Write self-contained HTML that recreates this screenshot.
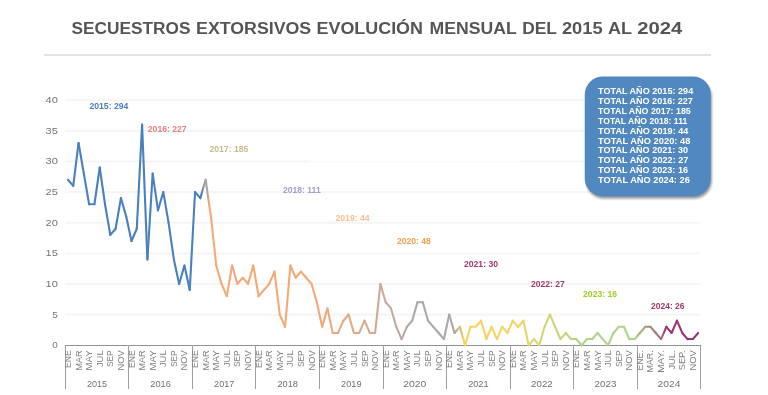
<!DOCTYPE html>
<html><head><meta charset="utf-8"><style>
html,body{margin:0;padding:0;background:#fff;width:768px;height:395px;overflow:hidden}
svg{display:block;will-change:transform}
text{font-family:"Liberation Sans",sans-serif}
.title{font-size:17.2px;font-weight:bold;fill:#555555}
.yl{font-size:8.6px;fill:#747474}
.ml{font-size:8.4px;fill:#7f7f7f}
.yr{font-size:8.8px;fill:#707070}
.lb{font-size:9.2px;font-weight:bold}
.tt{font-size:8.2px;font-weight:bold;fill:#ffffff}
</style></head><body>
<svg width="768" height="395" viewBox="0 0 768 395">
<defs><linearGradient id="g25" gradientUnits="userSpaceOnUse" x1="200.34" y1="0" x2="205.64" y2="0"><stop offset="0.3" stop-color="#4a80bd"/><stop offset="0.7" stop-color="#aaa3a3"/></linearGradient><linearGradient id="g26" gradientUnits="userSpaceOnUse" x1="205.64" y1="0" x2="210.94" y2="0"><stop offset="0.3" stop-color="#aaa3a3"/><stop offset="0.7" stop-color="#f3aa76"/></linearGradient><linearGradient id="g47" gradientUnits="userSpaceOnUse" x1="316.85" y1="0" x2="322.15" y2="0"><stop offset="0.3" stop-color="#f3aa76"/><stop offset="0.7" stop-color="#f0aa79"/></linearGradient><linearGradient id="g48" gradientUnits="userSpaceOnUse" x1="322.15" y1="0" x2="327.44" y2="0"><stop offset="0.3" stop-color="#f0aa79"/><stop offset="0.7" stop-color="#edaa7c"/></linearGradient><linearGradient id="g49" gradientUnits="userSpaceOnUse" x1="327.44" y1="0" x2="332.74" y2="0"><stop offset="0.3" stop-color="#edaa7c"/><stop offset="0.7" stop-color="#eaaa7e"/></linearGradient><linearGradient id="g50" gradientUnits="userSpaceOnUse" x1="332.74" y1="0" x2="338.04" y2="0"><stop offset="0.3" stop-color="#eaaa7e"/><stop offset="0.7" stop-color="#e6aa81"/></linearGradient><linearGradient id="g51" gradientUnits="userSpaceOnUse" x1="338.04" y1="0" x2="343.33" y2="0"><stop offset="0.3" stop-color="#e6aa81"/><stop offset="0.7" stop-color="#e3aa84"/></linearGradient><linearGradient id="g52" gradientUnits="userSpaceOnUse" x1="343.33" y1="0" x2="348.63" y2="0"><stop offset="0.3" stop-color="#e3aa84"/><stop offset="0.7" stop-color="#e0aa87"/></linearGradient><linearGradient id="g53" gradientUnits="userSpaceOnUse" x1="348.63" y1="0" x2="353.92" y2="0"><stop offset="0.3" stop-color="#e0aa87"/><stop offset="0.7" stop-color="#ddaa8a"/></linearGradient><linearGradient id="g54" gradientUnits="userSpaceOnUse" x1="353.92" y1="0" x2="359.22" y2="0"><stop offset="0.3" stop-color="#ddaa8a"/><stop offset="0.7" stop-color="#daaa8d"/></linearGradient><linearGradient id="g55" gradientUnits="userSpaceOnUse" x1="359.22" y1="0" x2="364.51" y2="0"><stop offset="0.3" stop-color="#daaa8d"/><stop offset="0.7" stop-color="#d6aa90"/></linearGradient><linearGradient id="g56" gradientUnits="userSpaceOnUse" x1="364.51" y1="0" x2="369.81" y2="0"><stop offset="0.3" stop-color="#d6aa90"/><stop offset="0.7" stop-color="#d3aa92"/></linearGradient><linearGradient id="g57" gradientUnits="userSpaceOnUse" x1="369.81" y1="0" x2="375.11" y2="0"><stop offset="0.3" stop-color="#d3aa92"/><stop offset="0.7" stop-color="#d0aa95"/></linearGradient><linearGradient id="g58" gradientUnits="userSpaceOnUse" x1="375.11" y1="0" x2="380.40" y2="0"><stop offset="0.3" stop-color="#d0aa95"/><stop offset="0.7" stop-color="#cdaa98"/></linearGradient><linearGradient id="g59" gradientUnits="userSpaceOnUse" x1="380.40" y1="0" x2="385.70" y2="0"><stop offset="0.3" stop-color="#cdaa98"/><stop offset="0.7" stop-color="#c8aa9a"/></linearGradient><linearGradient id="g60" gradientUnits="userSpaceOnUse" x1="385.70" y1="0" x2="390.99" y2="0"><stop offset="0.3" stop-color="#c8aa9a"/><stop offset="0.7" stop-color="#c3aa9d"/></linearGradient><linearGradient id="g61" gradientUnits="userSpaceOnUse" x1="390.99" y1="0" x2="396.29" y2="0"><stop offset="0.3" stop-color="#c3aa9d"/><stop offset="0.7" stop-color="#beaa9f"/></linearGradient><linearGradient id="g62" gradientUnits="userSpaceOnUse" x1="396.29" y1="0" x2="401.59" y2="0"><stop offset="0.3" stop-color="#beaa9f"/><stop offset="0.7" stop-color="#b8a9a2"/></linearGradient><linearGradient id="g63" gradientUnits="userSpaceOnUse" x1="401.59" y1="0" x2="406.88" y2="0"><stop offset="0.3" stop-color="#b8a9a2"/><stop offset="0.7" stop-color="#b3a9a4"/></linearGradient><linearGradient id="g64" gradientUnits="userSpaceOnUse" x1="406.88" y1="0" x2="412.18" y2="0"><stop offset="0.3" stop-color="#b3a9a4"/><stop offset="0.7" stop-color="#aea9a7"/></linearGradient><linearGradient id="g65" gradientUnits="userSpaceOnUse" x1="412.18" y1="0" x2="417.47" y2="0"><stop offset="0.3" stop-color="#aea9a7"/><stop offset="0.7" stop-color="#a9a9a9"/></linearGradient><linearGradient id="g72" gradientUnits="userSpaceOnUse" x1="449.25" y1="0" x2="454.54" y2="0"><stop offset="0.3" stop-color="#a9a9a9"/><stop offset="0.7" stop-color="#aeaa98"/></linearGradient><linearGradient id="g73" gradientUnits="userSpaceOnUse" x1="454.54" y1="0" x2="459.84" y2="0"><stop offset="0.3" stop-color="#aeaa98"/><stop offset="0.7" stop-color="#d4c070"/></linearGradient><linearGradient id="g74" gradientUnits="userSpaceOnUse" x1="459.84" y1="0" x2="465.14" y2="0"><stop offset="0.3" stop-color="#d4c070"/><stop offset="0.7" stop-color="#f9d35c"/></linearGradient><linearGradient id="g75" gradientUnits="userSpaceOnUse" x1="465.14" y1="0" x2="470.43" y2="0"><stop offset="0.3" stop-color="#f9d35c"/><stop offset="0.7" stop-color="#f8d35d"/></linearGradient><linearGradient id="g76" gradientUnits="userSpaceOnUse" x1="470.43" y1="0" x2="475.73" y2="0"><stop offset="0.3" stop-color="#f8d35d"/><stop offset="0.7" stop-color="#f8d35e"/></linearGradient><linearGradient id="g77" gradientUnits="userSpaceOnUse" x1="475.73" y1="0" x2="481.02" y2="0"><stop offset="0.3" stop-color="#f8d35e"/><stop offset="0.7" stop-color="#f7d35e"/></linearGradient><linearGradient id="g78" gradientUnits="userSpaceOnUse" x1="481.02" y1="0" x2="486.32" y2="0"><stop offset="0.3" stop-color="#f7d35e"/><stop offset="0.7" stop-color="#f6d45f"/></linearGradient><linearGradient id="g79" gradientUnits="userSpaceOnUse" x1="486.32" y1="0" x2="491.61" y2="0"><stop offset="0.3" stop-color="#f6d45f"/><stop offset="0.7" stop-color="#f6d460"/></linearGradient><linearGradient id="g80" gradientUnits="userSpaceOnUse" x1="491.61" y1="0" x2="496.91" y2="0"><stop offset="0.3" stop-color="#f6d460"/><stop offset="0.7" stop-color="#f5d460"/></linearGradient><linearGradient id="g81" gradientUnits="userSpaceOnUse" x1="496.91" y1="0" x2="502.21" y2="0"><stop offset="0.3" stop-color="#f5d460"/><stop offset="0.7" stop-color="#f5d461"/></linearGradient><linearGradient id="g82" gradientUnits="userSpaceOnUse" x1="502.21" y1="0" x2="507.50" y2="0"><stop offset="0.3" stop-color="#f5d461"/><stop offset="0.7" stop-color="#f4d462"/></linearGradient><linearGradient id="g83" gradientUnits="userSpaceOnUse" x1="507.50" y1="0" x2="512.80" y2="0"><stop offset="0.3" stop-color="#f4d462"/><stop offset="0.7" stop-color="#f0d464"/></linearGradient><linearGradient id="g84" gradientUnits="userSpaceOnUse" x1="512.80" y1="0" x2="518.09" y2="0"><stop offset="0.3" stop-color="#f0d464"/><stop offset="0.7" stop-color="#ecd466"/></linearGradient><linearGradient id="g85" gradientUnits="userSpaceOnUse" x1="518.09" y1="0" x2="523.39" y2="0"><stop offset="0.3" stop-color="#ecd466"/><stop offset="0.7" stop-color="#e8d468"/></linearGradient><linearGradient id="g86" gradientUnits="userSpaceOnUse" x1="523.39" y1="0" x2="528.69" y2="0"><stop offset="0.3" stop-color="#e8d468"/><stop offset="0.7" stop-color="#e3d46b"/></linearGradient><linearGradient id="g87" gradientUnits="userSpaceOnUse" x1="528.69" y1="0" x2="533.98" y2="0"><stop offset="0.3" stop-color="#e3d46b"/><stop offset="0.7" stop-color="#dfd46d"/></linearGradient><linearGradient id="g88" gradientUnits="userSpaceOnUse" x1="533.98" y1="0" x2="539.28" y2="0"><stop offset="0.3" stop-color="#dfd46d"/><stop offset="0.7" stop-color="#dbd46f"/></linearGradient><linearGradient id="g89" gradientUnits="userSpaceOnUse" x1="539.28" y1="0" x2="544.57" y2="0"><stop offset="0.3" stop-color="#dbd46f"/><stop offset="0.7" stop-color="#d7d471"/></linearGradient><linearGradient id="g90" gradientUnits="userSpaceOnUse" x1="544.57" y1="0" x2="549.87" y2="0"><stop offset="0.3" stop-color="#d7d471"/><stop offset="0.7" stop-color="#d3d473"/></linearGradient><linearGradient id="g91" gradientUnits="userSpaceOnUse" x1="549.87" y1="0" x2="555.16" y2="0"><stop offset="0.3" stop-color="#d3d473"/><stop offset="0.7" stop-color="#ced476"/></linearGradient><linearGradient id="g92" gradientUnits="userSpaceOnUse" x1="555.16" y1="0" x2="560.46" y2="0"><stop offset="0.3" stop-color="#ced476"/><stop offset="0.7" stop-color="#cad478"/></linearGradient><linearGradient id="g93" gradientUnits="userSpaceOnUse" x1="560.46" y1="0" x2="565.76" y2="0"><stop offset="0.3" stop-color="#cad478"/><stop offset="0.7" stop-color="#c6d47a"/></linearGradient><linearGradient id="g94" gradientUnits="userSpaceOnUse" x1="565.76" y1="0" x2="571.05" y2="0"><stop offset="0.3" stop-color="#c6d47a"/><stop offset="0.7" stop-color="#c2d47c"/></linearGradient><linearGradient id="g95" gradientUnits="userSpaceOnUse" x1="571.05" y1="0" x2="576.35" y2="0"><stop offset="0.3" stop-color="#c2d47c"/><stop offset="0.7" stop-color="#aed38c"/></linearGradient><linearGradient id="g107" gradientUnits="userSpaceOnUse" x1="634.60" y1="0" x2="639.90" y2="0"><stop offset="0.3" stop-color="#aed38c"/><stop offset="0.7" stop-color="#aab47c"/></linearGradient><linearGradient id="g108" gradientUnits="userSpaceOnUse" x1="639.90" y1="0" x2="645.19" y2="0"><stop offset="0.3" stop-color="#aab47c"/><stop offset="0.7" stop-color="#a79f78"/></linearGradient><linearGradient id="g109" gradientUnits="userSpaceOnUse" x1="645.19" y1="0" x2="650.49" y2="0"><stop offset="0.3" stop-color="#a79f78"/><stop offset="0.7" stop-color="#a48a74"/></linearGradient><linearGradient id="g110" gradientUnits="userSpaceOnUse" x1="650.49" y1="0" x2="655.79" y2="0"><stop offset="0.3" stop-color="#a48a74"/><stop offset="0.7" stop-color="#a47a7e"/></linearGradient><linearGradient id="g111" gradientUnits="userSpaceOnUse" x1="655.79" y1="0" x2="661.08" y2="0"><stop offset="0.3" stop-color="#a47a7e"/><stop offset="0.7" stop-color="#a56a88"/></linearGradient><linearGradient id="g112" gradientUnits="userSpaceOnUse" x1="661.08" y1="0" x2="666.38" y2="0"><stop offset="0.3" stop-color="#a56a88"/><stop offset="0.7" stop-color="#9a3570"/></linearGradient><filter id="blur" x="-20%" y="-20%" width="140%" height="140%"><feGaussianBlur stdDeviation="1"/></filter></defs>
<rect width="768" height="395" fill="#ffffff"/>
<text x="71.50" y="34.4" textLength="118.90" lengthAdjust="spacingAndGlyphs" class="title">SECUESTROS</text><text x="196.10" y="34.4" textLength="115.10" lengthAdjust="spacingAndGlyphs" class="title">EXTORSIVOS</text><text x="316.50" y="34.4" textLength="106.50" lengthAdjust="spacingAndGlyphs" class="title">EVOLUCIÓN</text><text x="429.60" y="34.4" textLength="87.10" lengthAdjust="spacingAndGlyphs" class="title">MENSUAL</text><text x="522.20" y="34.4" textLength="34.80" lengthAdjust="spacingAndGlyphs" class="title">DEL</text><text x="561.90" y="34.4" textLength="40.70" lengthAdjust="spacingAndGlyphs" class="title">2015</text><text x="608.10" y="34.4" textLength="24.00" lengthAdjust="spacingAndGlyphs" class="title">AL</text><text x="637.20" y="34.4" textLength="45.00" lengthAdjust="spacingAndGlyphs" class="title">2024</text>
<rect x="44" y="54" width="667" height="2" fill="#e3e3e3"/>
<rect x="65" y="313.66" width="635.80" height="2" fill="#f5f5f5"/>
<rect x="65" y="283.02" width="635.80" height="2" fill="#f5f5f5"/>
<rect x="65" y="252.38" width="635.80" height="2" fill="#f5f5f5"/>
<rect x="65" y="221.74" width="635.80" height="2" fill="#f5f5f5"/>
<rect x="65" y="191.10" width="635.80" height="2" fill="#f5f5f5"/>
<rect x="65" y="160.46" width="635.80" height="2" fill="#f5f5f5"/>
<rect x="65" y="129.82" width="635.80" height="2" fill="#f5f5f5"/>
<rect x="65" y="99.18" width="635.80" height="2" fill="#f5f5f5"/>
<rect x="309" y="160.16" width="211" height="2.4" fill="#ffffff" opacity="0.6" style="mask:none"/>
<text x="57.8" y="348.30" text-anchor="end" textLength="5.5" lengthAdjust="spacingAndGlyphs" class="yl">0</text>
<text x="57.8" y="317.66" text-anchor="end" textLength="5.5" lengthAdjust="spacingAndGlyphs" class="yl">5</text>
<text x="57.8" y="287.02" text-anchor="end" textLength="12.3" lengthAdjust="spacingAndGlyphs" class="yl">10</text>
<text x="57.8" y="256.38" text-anchor="end" textLength="12.3" lengthAdjust="spacingAndGlyphs" class="yl">15</text>
<text x="57.8" y="225.74" text-anchor="end" textLength="12.3" lengthAdjust="spacingAndGlyphs" class="yl">20</text>
<text x="57.8" y="195.10" text-anchor="end" textLength="12.3" lengthAdjust="spacingAndGlyphs" class="yl">25</text>
<text x="57.8" y="164.46" text-anchor="end" textLength="12.3" lengthAdjust="spacingAndGlyphs" class="yl">30</text>
<text x="57.8" y="133.82" text-anchor="end" textLength="12.3" lengthAdjust="spacingAndGlyphs" class="yl">35</text>
<text x="57.8" y="103.18" text-anchor="end" textLength="12.3" lengthAdjust="spacingAndGlyphs" class="yl">40</text>
<rect x="65" y="345" width="636.30" height="1" fill="#929292"/>
<rect x="65" y="345" width="1" height="44" fill="#a0a0a0"/>
<rect x="128" y="345" width="1" height="44" fill="#a0a0a0"/>
<rect x="192" y="345" width="1" height="44" fill="#a0a0a0"/>
<rect x="255" y="345" width="1" height="44" fill="#a0a0a0"/>
<rect x="319" y="345" width="1" height="44" fill="#a0a0a0"/>
<rect x="383" y="345" width="1" height="44" fill="#a0a0a0"/>
<rect x="446" y="345" width="1" height="44" fill="#a0a0a0"/>
<rect x="510" y="345" width="1" height="44" fill="#a0a0a0"/>
<rect x="573" y="345" width="1" height="44" fill="#a0a0a0"/>
<rect x="637" y="345" width="1" height="44" fill="#a0a0a0"/>
<rect x="700" y="345" width="1" height="44" fill="#a0a0a0"/>
<text transform="translate(70.95,350.3) rotate(-90)" text-anchor="end" textLength="17.8" lengthAdjust="spacingAndGlyphs" class="ml">ENE</text>
<text transform="translate(81.54,350.3) rotate(-90)" text-anchor="end" textLength="20.3" lengthAdjust="spacingAndGlyphs" class="ml">MAR</text>
<text transform="translate(92.13,350.3) rotate(-90)" text-anchor="end" textLength="20.3" lengthAdjust="spacingAndGlyphs" class="ml">MAY</text>
<text transform="translate(102.72,350.3) rotate(-90)" text-anchor="end" textLength="16.8" lengthAdjust="spacingAndGlyphs" class="ml">JUL</text>
<text transform="translate(113.31,350.3) rotate(-90)" text-anchor="end" textLength="16.8" lengthAdjust="spacingAndGlyphs" class="ml">SEP</text>
<text transform="translate(123.91,350.3) rotate(-90)" text-anchor="end" textLength="20.3" lengthAdjust="spacingAndGlyphs" class="ml">NOV</text>
<text x="97.07" y="386.6" text-anchor="middle" textLength="20.2" lengthAdjust="spacingAndGlyphs" class="yr">2015</text>
<text transform="translate(134.50,350.3) rotate(-90)" text-anchor="end" textLength="17.8" lengthAdjust="spacingAndGlyphs" class="ml">ENE</text>
<text transform="translate(145.09,350.3) rotate(-90)" text-anchor="end" textLength="20.3" lengthAdjust="spacingAndGlyphs" class="ml">MAR</text>
<text transform="translate(155.68,350.3) rotate(-90)" text-anchor="end" textLength="20.3" lengthAdjust="spacingAndGlyphs" class="ml">MAY</text>
<text transform="translate(166.27,350.3) rotate(-90)" text-anchor="end" textLength="16.8" lengthAdjust="spacingAndGlyphs" class="ml">JUL</text>
<text transform="translate(176.86,350.3) rotate(-90)" text-anchor="end" textLength="16.8" lengthAdjust="spacingAndGlyphs" class="ml">SEP</text>
<text transform="translate(187.46,350.3) rotate(-90)" text-anchor="end" textLength="20.3" lengthAdjust="spacingAndGlyphs" class="ml">NOV</text>
<text x="160.62" y="386.6" text-anchor="middle" textLength="20.6" lengthAdjust="spacingAndGlyphs" class="yr">2016</text>
<text transform="translate(198.05,350.3) rotate(-90)" text-anchor="end" textLength="17.8" lengthAdjust="spacingAndGlyphs" class="ml">ENE</text>
<text transform="translate(208.64,350.3) rotate(-90)" text-anchor="end" textLength="20.3" lengthAdjust="spacingAndGlyphs" class="ml">MAR</text>
<text transform="translate(219.23,350.3) rotate(-90)" text-anchor="end" textLength="20.3" lengthAdjust="spacingAndGlyphs" class="ml">MAY</text>
<text transform="translate(229.82,350.3) rotate(-90)" text-anchor="end" textLength="16.8" lengthAdjust="spacingAndGlyphs" class="ml">JUL</text>
<text transform="translate(240.41,350.3) rotate(-90)" text-anchor="end" textLength="16.8" lengthAdjust="spacingAndGlyphs" class="ml">SEP</text>
<text transform="translate(251.01,350.3) rotate(-90)" text-anchor="end" textLength="20.3" lengthAdjust="spacingAndGlyphs" class="ml">NOV</text>
<text x="224.18" y="386.6" text-anchor="middle" textLength="20.2" lengthAdjust="spacingAndGlyphs" class="yr">2017</text>
<text transform="translate(261.60,350.3) rotate(-90)" text-anchor="end" textLength="17.8" lengthAdjust="spacingAndGlyphs" class="ml">ENE</text>
<text transform="translate(272.19,350.3) rotate(-90)" text-anchor="end" textLength="20.3" lengthAdjust="spacingAndGlyphs" class="ml">MAR</text>
<text transform="translate(282.78,350.3) rotate(-90)" text-anchor="end" textLength="20.3" lengthAdjust="spacingAndGlyphs" class="ml">MAY</text>
<text transform="translate(293.37,350.3) rotate(-90)" text-anchor="end" textLength="16.8" lengthAdjust="spacingAndGlyphs" class="ml">JUL</text>
<text transform="translate(303.96,350.3) rotate(-90)" text-anchor="end" textLength="16.8" lengthAdjust="spacingAndGlyphs" class="ml">SEP</text>
<text transform="translate(314.56,350.3) rotate(-90)" text-anchor="end" textLength="20.3" lengthAdjust="spacingAndGlyphs" class="ml">NOV</text>
<text x="287.72" y="386.6" text-anchor="middle" textLength="20.6" lengthAdjust="spacingAndGlyphs" class="yr">2018</text>
<text transform="translate(325.15,350.3) rotate(-90)" text-anchor="end" textLength="17.8" lengthAdjust="spacingAndGlyphs" class="ml">ENE</text>
<text transform="translate(335.74,350.3) rotate(-90)" text-anchor="end" textLength="20.3" lengthAdjust="spacingAndGlyphs" class="ml">MAR</text>
<text transform="translate(346.33,350.3) rotate(-90)" text-anchor="end" textLength="20.3" lengthAdjust="spacingAndGlyphs" class="ml">MAY</text>
<text transform="translate(356.92,350.3) rotate(-90)" text-anchor="end" textLength="16.8" lengthAdjust="spacingAndGlyphs" class="ml">JUL</text>
<text transform="translate(367.51,350.3) rotate(-90)" text-anchor="end" textLength="16.8" lengthAdjust="spacingAndGlyphs" class="ml">SEP</text>
<text transform="translate(378.11,350.3) rotate(-90)" text-anchor="end" textLength="20.3" lengthAdjust="spacingAndGlyphs" class="ml">NOV</text>
<text x="351.27" y="386.6" text-anchor="middle" textLength="20.5" lengthAdjust="spacingAndGlyphs" class="yr">2019</text>
<text transform="translate(388.70,350.3) rotate(-90)" text-anchor="end" textLength="17.8" lengthAdjust="spacingAndGlyphs" class="ml">ENE</text>
<text transform="translate(399.29,350.3) rotate(-90)" text-anchor="end" textLength="20.3" lengthAdjust="spacingAndGlyphs" class="ml">MAR</text>
<text transform="translate(409.88,350.3) rotate(-90)" text-anchor="end" textLength="20.3" lengthAdjust="spacingAndGlyphs" class="ml">MAY</text>
<text transform="translate(420.47,350.3) rotate(-90)" text-anchor="end" textLength="16.8" lengthAdjust="spacingAndGlyphs" class="ml">JUL</text>
<text transform="translate(431.06,350.3) rotate(-90)" text-anchor="end" textLength="16.8" lengthAdjust="spacingAndGlyphs" class="ml">SEP</text>
<text transform="translate(441.66,350.3) rotate(-90)" text-anchor="end" textLength="20.3" lengthAdjust="spacingAndGlyphs" class="ml">NOV</text>
<text x="414.82" y="386.6" text-anchor="middle" textLength="23.1" lengthAdjust="spacingAndGlyphs" class="yr">2020</text>
<text transform="translate(452.25,350.3) rotate(-90)" text-anchor="end" textLength="17.8" lengthAdjust="spacingAndGlyphs" class="ml">ENE</text>
<text transform="translate(462.84,350.3) rotate(-90)" text-anchor="end" textLength="20.3" lengthAdjust="spacingAndGlyphs" class="ml">MAR</text>
<text transform="translate(473.43,350.3) rotate(-90)" text-anchor="end" textLength="20.3" lengthAdjust="spacingAndGlyphs" class="ml">MAY</text>
<text transform="translate(484.02,350.3) rotate(-90)" text-anchor="end" textLength="16.8" lengthAdjust="spacingAndGlyphs" class="ml">JUL</text>
<text transform="translate(494.61,350.3) rotate(-90)" text-anchor="end" textLength="16.8" lengthAdjust="spacingAndGlyphs" class="ml">SEP</text>
<text transform="translate(505.21,350.3) rotate(-90)" text-anchor="end" textLength="20.3" lengthAdjust="spacingAndGlyphs" class="ml">NOV</text>
<text x="478.38" y="386.6" text-anchor="middle" textLength="20.4" lengthAdjust="spacingAndGlyphs" class="yr">2021</text>
<text transform="translate(515.80,350.3) rotate(-90)" text-anchor="end" textLength="17.8" lengthAdjust="spacingAndGlyphs" class="ml">ENE</text>
<text transform="translate(526.39,350.3) rotate(-90)" text-anchor="end" textLength="20.3" lengthAdjust="spacingAndGlyphs" class="ml">MAR</text>
<text transform="translate(536.98,350.3) rotate(-90)" text-anchor="end" textLength="20.3" lengthAdjust="spacingAndGlyphs" class="ml">MAY</text>
<text transform="translate(547.57,350.3) rotate(-90)" text-anchor="end" textLength="16.8" lengthAdjust="spacingAndGlyphs" class="ml">JUL</text>
<text transform="translate(558.16,350.3) rotate(-90)" text-anchor="end" textLength="16.8" lengthAdjust="spacingAndGlyphs" class="ml">SEP</text>
<text transform="translate(568.76,350.3) rotate(-90)" text-anchor="end" textLength="20.3" lengthAdjust="spacingAndGlyphs" class="ml">NOV</text>
<text x="541.92" y="386.6" text-anchor="middle" textLength="21.6" lengthAdjust="spacingAndGlyphs" class="yr">2022</text>
<text transform="translate(579.35,350.3) rotate(-90)" text-anchor="end" textLength="17.8" lengthAdjust="spacingAndGlyphs" class="ml">ENE</text>
<text transform="translate(589.94,350.3) rotate(-90)" text-anchor="end" textLength="20.3" lengthAdjust="spacingAndGlyphs" class="ml">MAR</text>
<text transform="translate(600.53,350.3) rotate(-90)" text-anchor="end" textLength="20.3" lengthAdjust="spacingAndGlyphs" class="ml">MAY</text>
<text transform="translate(611.12,350.3) rotate(-90)" text-anchor="end" textLength="16.8" lengthAdjust="spacingAndGlyphs" class="ml">JUL</text>
<text transform="translate(621.71,350.3) rotate(-90)" text-anchor="end" textLength="16.8" lengthAdjust="spacingAndGlyphs" class="ml">SEP</text>
<text transform="translate(632.31,350.3) rotate(-90)" text-anchor="end" textLength="20.3" lengthAdjust="spacingAndGlyphs" class="ml">NOV</text>
<text x="605.47" y="386.6" text-anchor="middle" textLength="21.8" lengthAdjust="spacingAndGlyphs" class="yr">2023</text>
<text transform="translate(642.90,350.3) rotate(-90)" text-anchor="end" textLength="20.3" lengthAdjust="spacingAndGlyphs" class="ml">ENE.</text>
<text transform="translate(653.49,350.3) rotate(-90)" text-anchor="end" textLength="22.1" lengthAdjust="spacingAndGlyphs" class="ml">MAR.</text>
<text transform="translate(664.08,350.3) rotate(-90)" text-anchor="end" textLength="22.5" lengthAdjust="spacingAndGlyphs" class="ml">MAY.</text>
<text transform="translate(674.67,350.3) rotate(-90)" text-anchor="end" textLength="19.3" lengthAdjust="spacingAndGlyphs" class="ml">JUL.</text>
<text transform="translate(685.26,350.3) rotate(-90)" text-anchor="end" textLength="20.0" lengthAdjust="spacingAndGlyphs" class="ml">SEP.</text>
<text transform="translate(695.86,350.3) rotate(-90)" text-anchor="end" textLength="20.3" lengthAdjust="spacingAndGlyphs" class="ml">NOV</text>
<text x="669.02" y="386.6" text-anchor="middle" textLength="22.9" lengthAdjust="spacingAndGlyphs" class="yr">2024</text>
<g fill="none" stroke-width="2.1" stroke-linecap="round" stroke-linejoin="round">
<line x1="67.95" y1="179.74" x2="73.24" y2="185.87" stroke="#4a80bd"/>
<line x1="73.24" y1="185.87" x2="78.54" y2="142.98" stroke="#4a80bd"/>
<line x1="78.54" y1="142.98" x2="83.84" y2="173.62" stroke="#4a80bd"/>
<line x1="83.84" y1="173.62" x2="89.13" y2="204.26" stroke="#4a80bd"/>
<line x1="89.13" y1="204.26" x2="94.43" y2="204.26" stroke="#4a80bd"/>
<line x1="94.43" y1="204.26" x2="99.72" y2="167.49" stroke="#4a80bd"/>
<line x1="99.72" y1="167.49" x2="105.02" y2="204.26" stroke="#4a80bd"/>
<line x1="105.02" y1="204.26" x2="110.31" y2="234.90" stroke="#4a80bd"/>
<line x1="110.31" y1="234.90" x2="115.61" y2="228.77" stroke="#4a80bd"/>
<line x1="115.61" y1="228.77" x2="120.91" y2="198.13" stroke="#4a80bd"/>
<line x1="120.91" y1="198.13" x2="126.20" y2="216.51" stroke="#4a80bd"/>
<line x1="126.20" y1="216.51" x2="131.50" y2="241.02" stroke="#4a80bd"/>
<line x1="131.50" y1="241.02" x2="136.79" y2="228.77" stroke="#4a80bd"/>
<line x1="136.79" y1="228.77" x2="142.09" y2="124.59" stroke="#4a80bd"/>
<line x1="142.09" y1="124.59" x2="147.39" y2="259.41" stroke="#4a80bd"/>
<line x1="147.39" y1="259.41" x2="152.68" y2="173.62" stroke="#4a80bd"/>
<line x1="152.68" y1="173.62" x2="157.98" y2="210.38" stroke="#4a80bd"/>
<line x1="157.98" y1="210.38" x2="163.27" y2="192.00" stroke="#4a80bd"/>
<line x1="163.27" y1="192.00" x2="168.57" y2="222.64" stroke="#4a80bd"/>
<line x1="168.57" y1="222.64" x2="173.86" y2="259.41" stroke="#4a80bd"/>
<line x1="173.86" y1="259.41" x2="179.16" y2="283.92" stroke="#4a80bd"/>
<line x1="179.16" y1="283.92" x2="184.46" y2="265.54" stroke="#4a80bd"/>
<line x1="184.46" y1="265.54" x2="189.75" y2="290.05" stroke="#4a80bd"/>
<line x1="189.75" y1="290.05" x2="195.05" y2="192.00" stroke="#4a80bd"/>
<line x1="195.05" y1="192.00" x2="200.34" y2="198.13" stroke="#4a80bd"/>
<line x1="200.34" y1="198.13" x2="205.64" y2="179.74" stroke="url(#g25)"/>
<line x1="205.64" y1="179.74" x2="210.94" y2="216.51" stroke="url(#g26)"/>
<line x1="210.94" y1="216.51" x2="216.23" y2="265.54" stroke="#f3aa76"/>
<line x1="216.23" y1="265.54" x2="221.53" y2="283.92" stroke="#f3aa76"/>
<line x1="221.53" y1="283.92" x2="226.82" y2="296.18" stroke="#f3aa76"/>
<line x1="226.82" y1="296.18" x2="232.12" y2="265.54" stroke="#f3aa76"/>
<line x1="232.12" y1="265.54" x2="237.41" y2="283.92" stroke="#f3aa76"/>
<line x1="237.41" y1="283.92" x2="242.71" y2="277.79" stroke="#f3aa76"/>
<line x1="242.71" y1="277.79" x2="248.01" y2="283.92" stroke="#f3aa76"/>
<line x1="248.01" y1="283.92" x2="253.30" y2="265.54" stroke="#f3aa76"/>
<line x1="253.30" y1="265.54" x2="258.60" y2="296.18" stroke="#f3aa76"/>
<line x1="258.60" y1="296.18" x2="263.89" y2="290.05" stroke="#f3aa76"/>
<line x1="263.89" y1="290.05" x2="269.19" y2="283.92" stroke="#f3aa76"/>
<line x1="269.19" y1="283.92" x2="274.49" y2="271.66" stroke="#f3aa76"/>
<line x1="274.49" y1="271.66" x2="279.78" y2="314.56" stroke="#f3aa76"/>
<line x1="279.78" y1="314.56" x2="285.08" y2="326.82" stroke="#f3aa76"/>
<line x1="285.08" y1="326.82" x2="290.37" y2="265.54" stroke="#f3aa76"/>
<line x1="290.37" y1="265.54" x2="295.67" y2="277.79" stroke="#f3aa76"/>
<line x1="295.67" y1="277.79" x2="300.96" y2="271.66" stroke="#f3aa76"/>
<line x1="300.96" y1="271.66" x2="306.26" y2="277.79" stroke="#f3aa76"/>
<line x1="306.26" y1="277.79" x2="311.56" y2="283.92" stroke="#f3aa76"/>
<line x1="311.56" y1="283.92" x2="316.85" y2="302.30" stroke="#f3aa76"/>
<line x1="316.85" y1="302.30" x2="322.15" y2="326.82" stroke="url(#g47)"/>
<line x1="322.15" y1="326.82" x2="327.44" y2="308.43" stroke="url(#g48)"/>
<line x1="327.44" y1="308.43" x2="332.74" y2="332.94" stroke="url(#g49)"/>
<line x1="332.74" y1="332.94" x2="338.04" y2="332.94" stroke="url(#g50)"/>
<line x1="338.04" y1="332.94" x2="343.33" y2="320.69" stroke="url(#g51)"/>
<line x1="343.33" y1="320.69" x2="348.63" y2="314.56" stroke="url(#g52)"/>
<line x1="348.63" y1="314.56" x2="353.92" y2="332.94" stroke="url(#g53)"/>
<line x1="353.92" y1="332.94" x2="359.22" y2="332.94" stroke="url(#g54)"/>
<line x1="359.22" y1="332.94" x2="364.51" y2="320.69" stroke="url(#g55)"/>
<line x1="364.51" y1="320.69" x2="369.81" y2="332.94" stroke="url(#g56)"/>
<line x1="369.81" y1="332.94" x2="375.11" y2="332.94" stroke="url(#g57)"/>
<line x1="375.11" y1="332.94" x2="380.40" y2="283.92" stroke="url(#g58)"/>
<line x1="380.40" y1="283.92" x2="385.70" y2="302.30" stroke="url(#g59)"/>
<line x1="385.70" y1="302.30" x2="390.99" y2="308.43" stroke="url(#g60)"/>
<line x1="390.99" y1="308.43" x2="396.29" y2="326.82" stroke="url(#g61)"/>
<line x1="396.29" y1="326.82" x2="401.59" y2="339.07" stroke="url(#g62)"/>
<line x1="401.59" y1="339.07" x2="406.88" y2="326.82" stroke="url(#g63)"/>
<line x1="406.88" y1="326.82" x2="412.18" y2="320.69" stroke="url(#g64)"/>
<line x1="412.18" y1="320.69" x2="417.47" y2="302.30" stroke="url(#g65)"/>
<line x1="417.47" y1="302.30" x2="422.77" y2="302.30" stroke="#a9a9a9"/>
<line x1="422.77" y1="302.30" x2="428.06" y2="320.69" stroke="#a9a9a9"/>
<line x1="428.06" y1="320.69" x2="433.36" y2="326.82" stroke="#a9a9a9"/>
<line x1="433.36" y1="326.82" x2="438.66" y2="332.94" stroke="#a9a9a9"/>
<line x1="438.66" y1="332.94" x2="443.95" y2="339.07" stroke="#a9a9a9"/>
<line x1="443.95" y1="339.07" x2="449.25" y2="314.56" stroke="#a9a9a9"/>
<line x1="449.25" y1="314.56" x2="454.54" y2="332.94" stroke="url(#g72)"/>
<line x1="454.54" y1="332.94" x2="459.84" y2="326.82" stroke="url(#g73)"/>
<line x1="459.84" y1="326.82" x2="465.14" y2="345.20" stroke="url(#g74)"/>
<line x1="465.14" y1="345.20" x2="470.43" y2="326.82" stroke="url(#g75)"/>
<line x1="470.43" y1="326.82" x2="475.73" y2="326.82" stroke="url(#g76)"/>
<line x1="475.73" y1="326.82" x2="481.02" y2="320.69" stroke="url(#g77)"/>
<line x1="481.02" y1="320.69" x2="486.32" y2="339.07" stroke="url(#g78)"/>
<line x1="486.32" y1="339.07" x2="491.61" y2="326.82" stroke="url(#g79)"/>
<line x1="491.61" y1="326.82" x2="496.91" y2="339.07" stroke="url(#g80)"/>
<line x1="496.91" y1="339.07" x2="502.21" y2="326.82" stroke="url(#g81)"/>
<line x1="502.21" y1="326.82" x2="507.50" y2="332.94" stroke="url(#g82)"/>
<line x1="507.50" y1="332.94" x2="512.80" y2="320.69" stroke="url(#g83)"/>
<line x1="512.80" y1="320.69" x2="518.09" y2="326.82" stroke="url(#g84)"/>
<line x1="518.09" y1="326.82" x2="523.39" y2="320.69" stroke="url(#g85)"/>
<line x1="523.39" y1="320.69" x2="528.69" y2="345.20" stroke="url(#g86)"/>
<line x1="528.69" y1="345.20" x2="533.98" y2="339.07" stroke="url(#g87)"/>
<line x1="533.98" y1="339.07" x2="539.28" y2="345.20" stroke="url(#g88)"/>
<line x1="539.28" y1="345.20" x2="544.57" y2="326.82" stroke="url(#g89)"/>
<line x1="544.57" y1="326.82" x2="549.87" y2="314.56" stroke="url(#g90)"/>
<line x1="549.87" y1="314.56" x2="555.16" y2="326.82" stroke="url(#g91)"/>
<line x1="555.16" y1="326.82" x2="560.46" y2="339.07" stroke="url(#g92)"/>
<line x1="560.46" y1="339.07" x2="565.76" y2="332.94" stroke="url(#g93)"/>
<line x1="565.76" y1="332.94" x2="571.05" y2="339.07" stroke="url(#g94)"/>
<line x1="571.05" y1="339.07" x2="576.35" y2="339.07" stroke="url(#g95)"/>
<line x1="576.35" y1="339.07" x2="581.64" y2="345.20" stroke="#aed38c"/>
<line x1="581.64" y1="345.20" x2="586.94" y2="339.07" stroke="#aed38c"/>
<line x1="586.94" y1="339.07" x2="592.24" y2="339.07" stroke="#aed38c"/>
<line x1="592.24" y1="339.07" x2="597.53" y2="332.94" stroke="#aed38c"/>
<line x1="597.53" y1="332.94" x2="602.83" y2="339.07" stroke="#aed38c"/>
<line x1="602.83" y1="339.07" x2="608.12" y2="345.20" stroke="#aed38c"/>
<line x1="608.12" y1="345.20" x2="613.42" y2="332.94" stroke="#aed38c"/>
<line x1="613.42" y1="332.94" x2="618.71" y2="326.82" stroke="#aed38c"/>
<line x1="618.71" y1="326.82" x2="624.01" y2="326.82" stroke="#aed38c"/>
<line x1="624.01" y1="326.82" x2="629.31" y2="339.07" stroke="#aed38c"/>
<line x1="629.31" y1="339.07" x2="634.60" y2="339.07" stroke="#aed38c"/>
<line x1="634.60" y1="339.07" x2="639.90" y2="332.94" stroke="url(#g107)"/>
<line x1="639.90" y1="332.94" x2="645.19" y2="326.82" stroke="url(#g108)"/>
<line x1="645.19" y1="326.82" x2="650.49" y2="326.82" stroke="url(#g109)"/>
<line x1="650.49" y1="326.82" x2="655.79" y2="332.94" stroke="url(#g110)"/>
<line x1="655.79" y1="332.94" x2="661.08" y2="339.07" stroke="url(#g111)"/>
<line x1="661.08" y1="339.07" x2="666.38" y2="326.82" stroke="url(#g112)"/>
<line x1="666.38" y1="326.82" x2="671.67" y2="332.94" stroke="#9a3570"/>
<line x1="671.67" y1="332.94" x2="676.97" y2="320.69" stroke="#9a3570"/>
<line x1="676.97" y1="320.69" x2="682.26" y2="332.94" stroke="#9a3570"/>
<line x1="682.26" y1="332.94" x2="687.56" y2="339.07" stroke="#9a3570"/>
<line x1="687.56" y1="339.07" x2="692.86" y2="339.07" stroke="#9a3570"/>
<line x1="692.86" y1="339.07" x2="698.15" y2="332.94" stroke="#9a3570"/>
</g>
<text x="89.5" y="109.2" textLength="38.8" lengthAdjust="spacingAndGlyphs" class="lb" fill="#4a7fbd">2015: 294</text>
<text x="147.8" y="131.5" textLength="38.8" lengthAdjust="spacingAndGlyphs" class="lb" fill="#e08282">2016: 227</text>
<text x="209.5" y="152.3" textLength="38.8" lengthAdjust="spacingAndGlyphs" class="lb" fill="#c9b98c">2017: 185</text>
<text x="282.9" y="193.0" textLength="37.8" lengthAdjust="spacingAndGlyphs" class="lb" fill="#a99bd0">2018: 111</text>
<text x="335.5" y="221.4" textLength="34.1" lengthAdjust="spacingAndGlyphs" class="lb" fill="#f7c08c">2019: 44</text>
<text x="396.9" y="243.8" textLength="33.9" lengthAdjust="spacingAndGlyphs" class="lb" fill="#f4a052">2020: 48</text>
<text x="464.0" y="267.4" textLength="34.0" lengthAdjust="spacingAndGlyphs" class="lb" fill="#9c3a6e">2021: 30</text>
<text x="531.1" y="287.3" textLength="33.7" lengthAdjust="spacingAndGlyphs" class="lb" fill="#9c3a6e">2022: 27</text>
<text x="583.1" y="297.3" textLength="33.9" lengthAdjust="spacingAndGlyphs" class="lb" fill="#a0cc28">2023: 16</text>
<text x="651.1" y="309.2" textLength="33.4" lengthAdjust="spacingAndGlyphs" class="lb" fill="#9c3a6e">2024: 26</text>
<rect x="585.9" y="78.8" width="126" height="120" rx="18" fill="#8a8a8a" opacity="0.85" filter="url(#blur)"/>
<rect x="584.8" y="76.4" width="126" height="120" rx="18" fill="#5088bf"/>
<text x="598.1" y="94.10" textLength="95.1" lengthAdjust="spacingAndGlyphs" class="tt">TOTAL AÑO 2015: 294</text>
<text x="598.1" y="103.98" textLength="94.8" lengthAdjust="spacingAndGlyphs" class="tt">TOTAL AÑO 2016: 227</text>
<text x="598.1" y="113.86" textLength="92.7" lengthAdjust="spacingAndGlyphs" class="tt">TOTAL AÑO 2017: 185</text>
<text x="598.1" y="123.74" textLength="89.2" lengthAdjust="spacingAndGlyphs" class="tt">TOTAL AÑO 2018: 111</text>
<text x="598.1" y="133.62" textLength="90.3" lengthAdjust="spacingAndGlyphs" class="tt">TOTAL AÑO 2019: 44</text>
<text x="598.1" y="143.50" textLength="92.3" lengthAdjust="spacingAndGlyphs" class="tt">TOTAL AÑO 2020: 48</text>
<text x="598.1" y="153.38" textLength="89.9" lengthAdjust="spacingAndGlyphs" class="tt">TOTAL AÑO 2021: 30</text>
<text x="598.1" y="163.26" textLength="90.3" lengthAdjust="spacingAndGlyphs" class="tt">TOTAL AÑO 2022: 27</text>
<text x="598.1" y="173.14" textLength="89.9" lengthAdjust="spacingAndGlyphs" class="tt">TOTAL AÑO 2023: 16</text>
<text x="598.1" y="183.02" textLength="91.7" lengthAdjust="spacingAndGlyphs" class="tt">TOTAL AÑO 2024: 26</text>
</svg>
</body></html>
